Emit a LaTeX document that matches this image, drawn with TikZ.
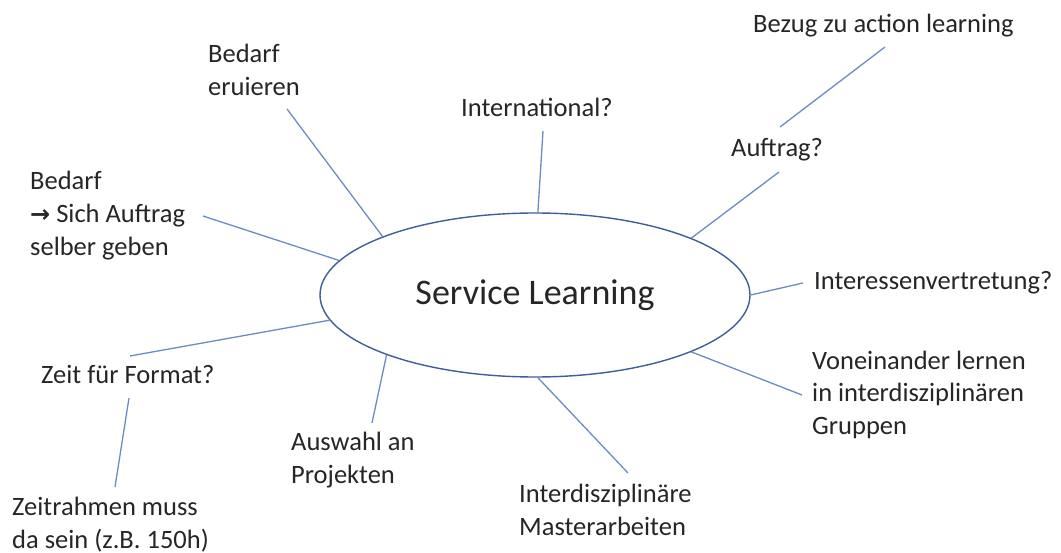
\documentclass[tikz,border=0pt]{standalone}
\usepackage{fontspec}
\setmainfont{Carlito}
\newfontfamily\dvfont{DejaVu Sans}
\usetikzlibrary{shapes.geometric}
\definecolor{txtc}{HTML}{262626}
\definecolor{linec}{HTML}{6B8CC7}
\definecolor{ellc}{HTML}{3F5E9A}
\begin{document}
\begin{tikzpicture}[x=1pt,y=-1pt,
  lbl/.style={anchor=base west,inner sep=0pt,align=left,text=txtc,
    font=\fontsize{26.5}{33}\selectfont},
  conn/.style={draw=linec,line width=1.3pt}]
\useasboundingbox[fill=white] (0,0) rectangle (1061,553);
\node[ellipse,draw=ellc,line width=1.4pt,minimum width=430,minimum height=164,
  inner sep=0pt,text=txtc,font=\fontsize{36}{40}\selectfont] (sl) at (535,295) {Service Learning};

% anchor = baseline of the last line
\node[lbl] (be) at (208,96) {Bedarf\\eruieren};
\node[lbl] (bs) at (30,256) {Bedarf\\{\dvfont\bfseries\fontsize{24}{33}\selectfont →} Sich Auftrag\\selber geben};
\node[lbl] (in) at (461,117) {International?};
\node[lbl] (au) at (731,157) {Auftrag?};
\node[lbl] (bz) at (753,33) {Bezug zu action learning};
\node[lbl] (iv) at (814,290) {Interessenvertretung?};
\node[lbl] (vo) at (812,435) {Voneinander lernen\\in interdisziplinären\\Gruppen};
\node[lbl] (im) at (519,535) {Interdisziplinäre\\Masterarbeiten};
\node[lbl] (aw) at (291,483) {Auswahl an\\Projekten};
\node[lbl] (zf) at (41,384) {Zeit für Format?};
\node[lbl] (zr) at (12,548) {Zeitrahmen muss\\da sein (z.B. 150h)};

\coordinate (cbe) at (287,109);
\coordinate (cbs) at (203,216);
\coordinate (cin) at (543,131);
\coordinate (cau1) at (779,172);
\coordinate (cau2) at (780,127);
\coordinate (cbz) at (885,47);
\coordinate (civ) at (803,283);
\coordinate (cvo) at (802,395);
\coordinate (cim) at (628,473);
\coordinate (caw) at (372,423);
\coordinate (czf1) at (130,356);
\coordinate (czf2) at (129,398);
\coordinate (czr) at (115,487);

\draw[conn] (cbe) -- (sl.159.8);
\draw[conn] (cbs) -- (sl.170.1);
\draw[conn] (cin) -- (sl.88.6);
\draw[conn] (cau1) -- (sl.20.8);
\draw[conn] (cbz) -- (cau2);
\draw[conn] (civ) -- (sl.0);
\draw[conn] (cvo) -- (sl.-20.8);
\draw[conn] (cim) -- (sl.-88);
\draw[conn] (caw) -- (sl.-158.5);
\draw[conn] (czf1) -- (sl.187.6);
\draw[conn] (czf2) -- (czr);
\end{tikzpicture}
\end{document}
